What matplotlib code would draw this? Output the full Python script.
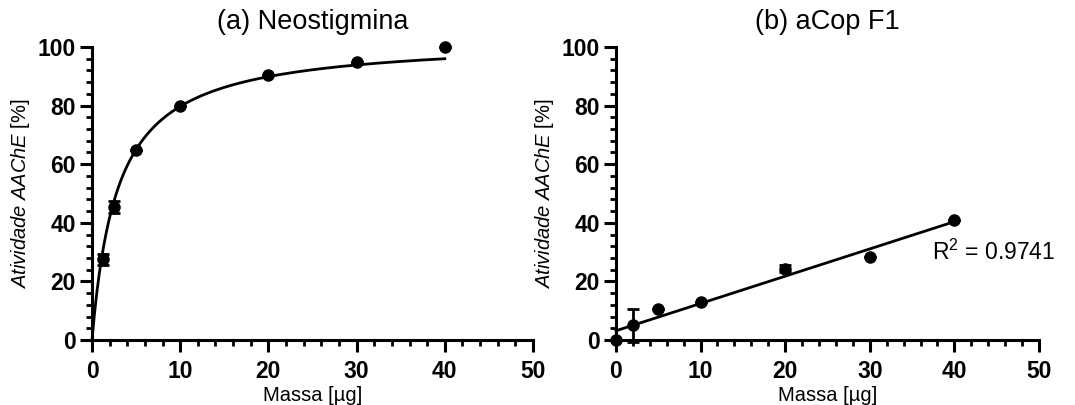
import numpy as np
import matplotlib
matplotlib.use('Agg')
import matplotlib.pyplot as plt
from matplotlib.ticker import MultipleLocator

plt.rcParams['font.family'] = ['Liberation Sans', 'DejaVu Sans']
plt.rcParams['mathtext.fontset'] = 'custom'
plt.rcParams['mathtext.rm'] = 'Liberation Sans'
plt.rcParams['mathtext.it'] = 'Liberation Sans:italic'

# (a) Neostigmina
x_neo = [1.25, 2.5, 5, 10, 20, 30, 40]
y_neo = [27.5, 45.5, 65, 80, 90.5, 95, 100]
e_neo = [2.0, 2.0, 0, 0, 0, 0, 0]
# hyperbolic fit parameters
bmax_neo = 103.0
k_neo = 2.92

# (b) aCop F1
x_cop = [0, 2, 5, 10, 20, 30, 40]
y_cop = [0, 5, 10.5, 12.8, 24.3, 28.3, 40.8]
e_cop = [0, 5.7, 0, 0, 1.2, 0, 0]
r2_text = r'R$^2$ = 0.9741'

fig = plt.figure(figsize=(10.75, 4.05), dpi=100)
ax1 = fig.add_axes([0.0856, 0.1605, 0.4102, 0.7235])
ax2 = fig.add_axes([0.573, 0.1605, 0.3935, 0.7235])

def style(ax, title):
    ax.set_xlim(0, 50)
    ax.set_ylim(0, 100)
    ax.xaxis.set_major_locator(MultipleLocator(10))
    ax.xaxis.set_minor_locator(MultipleLocator(2))
    ax.yaxis.set_major_locator(MultipleLocator(20))
    ax.yaxis.set_minor_locator(MultipleLocator(4))
    for s in ['top', 'right']:
        ax.spines[s].set_visible(False)
    for s in ['left', 'bottom']:
        ax.spines[s].set_linewidth(2.2)
    ax.tick_params(which='major', direction='out', length=8.5, width=2.2, labelsize=16.5, pad=3)
    ax.tick_params(axis='x', which='major', pad=6)
    ax.tick_params(which='minor', direction='out', length=4.5, width=2.0)
    for lab in ax.get_xticklabels() + ax.get_yticklabels():
        lab.set_fontweight('bold')
    ax.set_xlabel('Massa [µg]', fontsize=14.5, labelpad=2)
    ax.set_ylabel(r'$\it{Atividade\ AAChE}$ [%]', fontsize=14.5, labelpad=4)
    ax.set_title(title, fontsize=19.5, pad=13)

style(ax1, '(a) Neostigmina')
style(ax2, '(b) aCop F1')

xf = np.linspace(0, 40, 300)
ax1.plot(xf, bmax_neo * xf / (k_neo + xf), color='black', lw=2.0, clip_on=False)
ax1.errorbar(x_neo, y_neo, yerr=e_neo, fmt='o', color='black', ms=8,
             capsize=4, elinewidth=2.0, capthick=2.0, clip_on=False, zorder=5)

p = np.polyfit(x_cop, y_cop, 1)
xl = np.array([0, 40])
ax2.plot(xl, np.polyval(p, xl), color='black', lw=2.0, clip_on=False)
ax2.errorbar(x_cop, y_cop, yerr=e_cop, fmt='o', color='black', ms=8,
             capsize=4, elinewidth=2.0, capthick=2.0, clip_on=False, zorder=5)
ax2.text(37.3, 30.0, r2_text, fontsize=16.5, va='center', ha='left')

fig.savefig('out.png', dpi=100)
